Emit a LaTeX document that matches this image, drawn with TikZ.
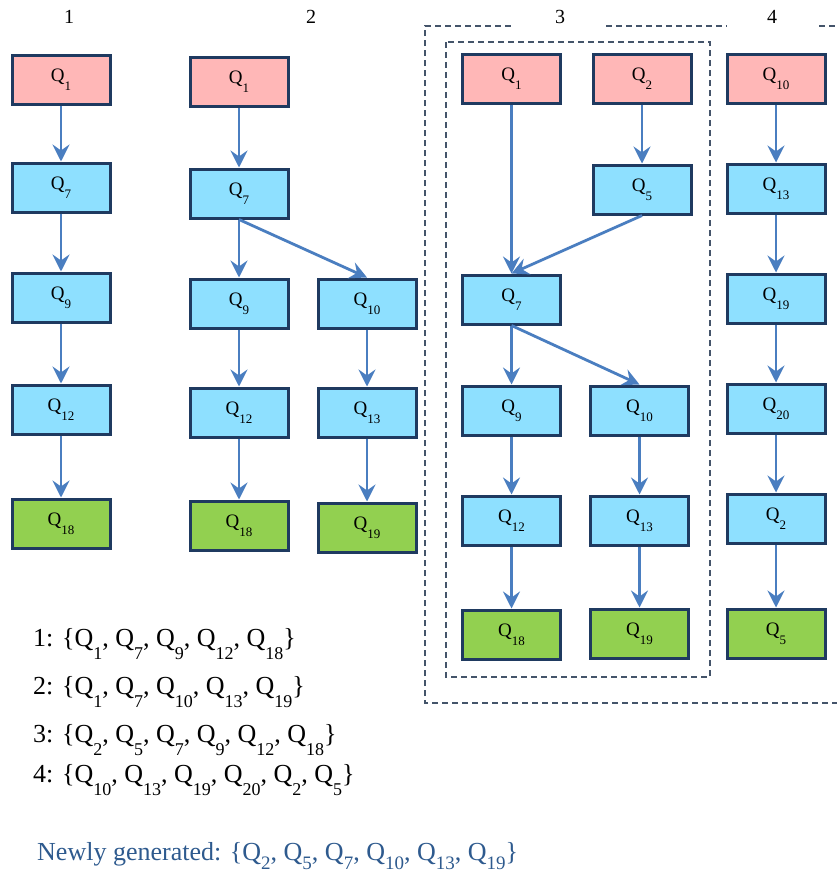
\documentclass[tikz,border=0pt]{standalone}
\usepackage{fontspec}
\setmainfont{Liberation Serif}
\usetikzlibrary{arrows.meta, positioning}

\definecolor{startpink}{HTML}{FFB7B7}
\definecolor{midblue}{HTML}{8EE0FF}
\definecolor{endgreen}{HTML}{92D050}
\definecolor{edgenavy}{HTML}{1F3A60}
\definecolor{flowblue}{HTML}{4A7EC0}
\definecolor{notetext}{HTML}{2E5A8E}
\definecolor{framegray}{HTML}{44546A}

% Q with a low subscript, inside the boxes
\newcommand{\qbox}[1]{Q\raisebox{-9pt}{\fontsize{13}{13}\selectfont #1}}
% Q with a low subscript, in the lists below
\newcommand{\qlist}[1]{Q\raisebox{-13pt}{\fontsize{18}{18}\selectfont #1}}
\newcommand{\qnew}[1]{Q\raisebox{-9pt}{\fontsize{19}{19}\selectfont #1}}

\begin{document}
\begin{tikzpicture}[
      x=1pt, y=-1pt,
      qnode/.style={rectangle, draw=edgenavy, line width=3pt, minimum width=98pt, minimum height=49pt, inner sep=0pt, font=\fontsize{19}{19}\selectfont},
      first/.style={qnode, fill=startpink},
      middle/.style={qnode, fill=midblue},
      last/.style={qnode, fill=endgreen},
      arrow/.style={-{Stealth[length=17pt, width=17pt, inset=6pt]}, line width=2.8pt, draw=flowblue},
      frame/.style={dashed, dash pattern=on 6pt off 4pt, line width=1.3pt, draw=framegray},
      title/.style={font=\fontsize{20}{20}\selectfont},
      node distance=58pt
    ]

    \useasboundingbox (0,0) rectangle (837,876);

    % column titles
    \node[title] (t1) at (69,17) {1};
    \node[title] (t2) at (311,17) {2};
    \node[title] (t3) at (560,17) {3};
    \node[title] (t4) at (772,17) {4};

    % frames round column 3
    \draw[frame] (838,703) -- (425,703) -- (425,26) -- (513,26);
    \draw[frame] (606,26) -- (727,26);
    \draw[frame] (819,26) -- (838,26);
    \draw[frame] (446,42) rectangle (710,677);

    % column 1
    \node[first] (a1) at (61,79.5) {\qbox{1}};
    \node[middle, below=56pt of a1] (a7) {\qbox{7}};
    \node[middle, below=of a7] (a9) {\qbox{9}};
    \node[middle, below=60pt of a9] (a12) {\qbox{12}};
    \node[last, below=62pt of a12] (a18) {\qbox{18}};

    % column 2
    \node[first] (b1) at (239,81.5) {\qbox{1}};
    \node[middle, below=60pt of b1] (b7) {\qbox{7}};
    \node[middle, below=of b7] (b9) {\qbox{9}};
    \node[middle, right=27pt of b9] (b10) {\qbox{10}};
    \node[middle, below=57pt of b9] (b12) {\qbox{12}};
    \node[middle, below=57pt of b10] (b13) {\qbox{13}};
    \node[last, below=61pt of b12] (b18) {\qbox{18}};
    \node[last, below=63pt of b13] (b19) {\qbox{19}};

    % column 3
    \node[first] (c1) at (511.5,78.5) {\qbox{1}};
    \node[first] (c2) at (642,78.5) {\qbox{2}};
    \node[middle, below=59pt of c2] (c5) {\qbox{5}};
    \node[middle] (c7) at (511.5,299.5) {\qbox{7}};
    \node[middle, below=59pt of c7] (c9) {\qbox{9}};
    \node[middle, right=27pt of c9] (c10) {\qbox{10}};
    \node[middle, below=of c9] (c12) {\qbox{12}};
    \node[middle, below=of c10] (c13) {\qbox{13}};
    \node[last, below=62pt of c12] (c18) {\qbox{18}};
    \node[last, below=61pt of c13] (c19) {\qbox{19}};

    % column 4
    \node[first] (d10) at (776,78.5) {\qbox{10}};
    \node[middle, below=of d10] (d13) {\qbox{13}};
    \node[middle, below=of d13] (d19) {\qbox{19}};
    \node[middle, below=of d19] (d20) {\qbox{20}};
    \node[middle, below=of d20] (d2) {\qbox{2}};
    \node[last, below=63pt of d2] (d5) {\qbox{5}};

    % arrows
    \draw[arrow] (a1) -- (a7);
    \draw[arrow] (a7) -- (a9);
    \draw[arrow] (a9) -- (a12);
    \draw[arrow] (a12) -- (a18);

    \draw[arrow] (b1) -- (b7);
    \draw[arrow] (b7) -- (b9);
    \draw[arrow] (b7.south) -- (b10.north);
    \draw[arrow] (b9) -- (b12);
    \draw[arrow] (b10) -- (b13);
    \draw[arrow] (b12) -- (b18);
    \draw[arrow] (b13) -- (b19);

    \draw[arrow] (c1) -- (c7);
    \draw[arrow] (c2) -- (c5);
    \draw[arrow] (c5.south) -- (c7.north);
    \draw[arrow] (c7) -- (c9);
    \draw[arrow] (c7.south) -- (c10.north);
    \draw[arrow] (c9) -- (c12);
    \draw[arrow] (c10) -- (c13);
    \draw[arrow] (c12) -- (c18);
    \draw[arrow] (c13) -- (c19);

    \draw[arrow] (d10) -- (d13);
    \draw[arrow] (d13) -- (d19);
    \draw[arrow] (d19) -- (d20);
    \draw[arrow] (d20) -- (d2);
    \draw[arrow] (d2) -- (d5);

    % the paths as sets
    \begin{scope}[every node/.style={anchor=base west, inner sep=0pt, font=\fontsize{26}{26}\selectfont}]
      \node (set1) at (33,646) {1: \{\qlist{1}, \qlist{7}, \qlist{9}, \qlist{12}, \qlist{18}\}};
      \node (set2) at (33,694) {2: \{\qlist{1}, \qlist{7}, \qlist{10}, \qlist{13}, \qlist{19}\}};
      \node (set3) at (33,742) {3: \{\qlist{2}, \qlist{5}, \qlist{7}, \qlist{9}, \qlist{12}, \qlist{18}\}};
      \node (set4) at (33,782) {4: \{\qlist{10}, \qlist{13}, \qlist{19}, \qlist{20}, \qlist{2}, \qlist{5}\}};
      \node[text=notetext] (new) at (37,860) {Newly generated: \{\qnew{2}, \qnew{5}, \qnew{7}, \qnew{10}, \qnew{13}, \qnew{19}\}};
    \end{scope}

    \end{tikzpicture}
\end{document}
